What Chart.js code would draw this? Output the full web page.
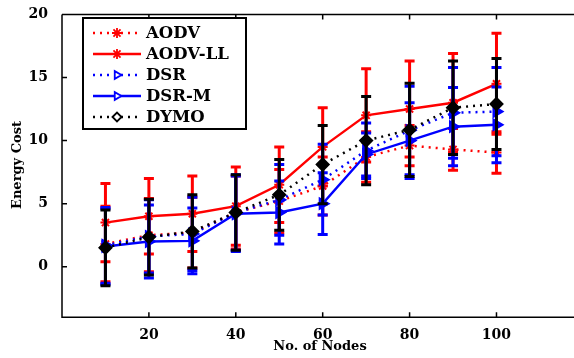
<!DOCTYPE html>
<html>
<head>
<meta charset="utf-8">
<script src="https://cdn.jsdelivr.net/npm/chart.js@4.4.1/dist/chart.umd.min.js"></script>
<style>
  html, body { margin: 0; padding: 0; background: #fff; }
  #wrap { width: 574px; height: 358px; }
</style>
</head>
<body>
<div id="wrap"><canvas id="energyChart" width="574" height="358"></canvas></div>
<script>
// node counts on the x axis
const nodes = [10, 20, 30, 40, 50, 60, 70, 80, 90, 100];

// mean energy cost per protocol
const aodv   = [1.8, 2.5, 2.7, 4.3, 5.2, 6.4, 8.7, 9.6, 9.3, 9.05];
const aodvLL = [3.5, 4.0, 4.2, 4.8, 6.5, 9.5, 12.0, 12.5, 13.0, 14.5];
const dsr    = [1.7, 2.4, 2.6, 4.3, 5.3, 6.9, 9.2, 10.8, 12.2, 12.3];
const dsrM   = [1.6, 2.0, 2.05, 4.2, 4.3, 5.0, 8.9, 10.0, 11.1, 11.25];
const dymo   = [1.5, 2.35, 2.8, 4.3, 5.7, 8.1, 10.0, 10.85, 12.6, 12.9];

// error bar half-widths
const aodvErr   = [3.0, 2.9, 2.8, 2.9, 2.5, 2.3, 2.0, 1.6, 1.65, 1.65];
const aodvLLErr = [3.1, 3.0, 3.0, 3.1, 3.0, 3.1, 3.7, 3.8, 3.9, 4.0];
const dsrErr    = [3.0, 2.9, 2.9, 3.0, 2.8, 2.8, 2.2, 3.5, 3.6, 3.5];
const dsrMErr   = [3.0, 2.9, 2.6, 3.0, 2.5, 2.45, 1.7, 3.0, 3.1, 3.0];
const dymoErr   = [3.0, 3.0, 2.9, 3.0, 2.8, 3.1, 3.5, 3.7, 3.7, 3.6];

const xTicks = [20, 40, 60, 80, 100];
const yTicks = [0, 5, 10, 15, 20];

const serif = '"DejaVu Serif", "Liberation Serif", serif';

function series(label, values, errs, color, dash, style, rotation, order) {
  return {
    label: label,
    data: nodes.map((n, i) => ({ x: n, y: values[i] })),
    errors: errs,
    borderColor: color,
    backgroundColor: color,
    borderWidth: dash ? 2.5 : 2.4,
    borderDash: dash ? [2, 5] : [],
    pointStyle: style,
    rotation: rotation,
    pointRadius: style === 'star' ? 5 : 6,
    pointBorderWidth: 2,
    pointBackgroundColor: color,
    tension: 0,
    order: order,
  };
}

const datasets = [
  series("AODV", aodv, aodvErr, "#ff0000", true, "star", 0, 4),
  series("AODV-LL", aodvLL, aodvLLErr, "#ff0000", false, "star", 0, 3),
  series("DSR", dsr, dsrErr, "#0000ff", true, "triangle", 90, 2),
  series("DSR-M", dsrM, dsrMErr, "#0000ff", false, "triangle", 90, 1),
  series("DYMO", dymo, dymoErr, "#000000", true, "rectRot", 0, 0),
];

// draw each dataset's error bars just before its line, like MATLAB errorbar
const errorBars = {
  id: "errorBars",
  beforeDatasetDraw(chart, args) {
    const ds = chart.data.datasets[args.index];
    const xs = chart.scales.x, ys = chart.scales.y;
    const ctx = chart.ctx;
    ctx.save();
    ctx.strokeStyle = ds.borderColor;
    ctx.lineWidth = 3;
    ctx.setLineDash([]);
    ds.data.forEach((p, i) => {
      const px = xs.getPixelForValue(p.x);
      const top = ys.getPixelForValue(p.y + ds.errors[i]);
      const bot = ys.getPixelForValue(p.y - ds.errors[i]);
      ctx.beginPath();
      ctx.moveTo(px, top); ctx.lineTo(px, bot);
      ctx.moveTo(px - 5, top); ctx.lineTo(px + 5, top);
      ctx.moveTo(px - 5, bot); ctx.lineTo(px + 5, bot);
      ctx.stroke();
    });
    ctx.restore();
  },
};

// axes box, inward ticks, titles and the boxed legend
const frame = {
  id: "frame",
  afterDraw(chart) {
    const { ctx, chartArea: a, scales } = chart;
    ctx.save();
    ctx.strokeStyle = "#000";
    ctx.lineWidth = 1.5;
    ctx.beginPath();
    ctx.moveTo(a.left, a.top); ctx.lineTo(574, a.top);
    ctx.moveTo(a.left, a.top); ctx.lineTo(a.left, a.bottom);
    ctx.lineTo(574, a.bottom);
    xTicks.forEach(v => {
      const px = scales.x.getPixelForValue(v);
      ctx.moveTo(px, a.bottom); ctx.lineTo(px, a.bottom - 5);
      ctx.moveTo(px, a.top); ctx.lineTo(px, a.top + 5);
    });
    yTicks.forEach(v => {
      const py = scales.y.getPixelForValue(v);
      ctx.moveTo(a.left, py); ctx.lineTo(a.left + 5, py);
    });
    ctx.stroke();

    // axis titles
    ctx.fillStyle = "#000";
    ctx.font = "bold 13px " + serif;
    ctx.textAlign = "center";
    ctx.textBaseline = "middle";
    ctx.fillText("No. of Nodes", 320, 347);
    ctx.translate(18, 165);
    ctx.rotate(-Math.PI / 2);
    ctx.fillText("Energy Cost", 0, 0);
    ctx.setTransform(1, 0, 0, 1, 0, 0);

    // legend
    const lx = 83, ly = 18, lw = 163, lh = 111;
    ctx.fillStyle = "#fff";
    ctx.fillRect(lx, ly, lw, lh);
    ctx.strokeStyle = "#000";
    ctx.lineWidth = 2;
    ctx.strokeRect(lx, ly, lw, lh);
    ctx.font = "bold 16.5px " + serif;
    ctx.textAlign = "left";
    chart.data.datasets.forEach((ds, i) => {
      const y = 33 + i * 21;
      ctx.strokeStyle = ds.borderColor;
      ctx.lineWidth = ds.borderWidth;
      ctx.setLineDash(ds.borderDash);
      ctx.beginPath();
      ctx.moveTo(93, y); ctx.lineTo(141, y);
      ctx.stroke();
      ctx.setLineDash([]);
      ctx.lineWidth = 1.8;
      ctx.fillStyle = "#fff";
      Chart.helpers.drawPoint(ctx, {
        pointStyle: ds.pointStyle, rotation: ds.rotation,
        radius: ds.pointStyle === "star" ? 5 : 4.5, borderWidth: 1.8,
      }, 117, y);
      ctx.fillStyle = "#000";
      ctx.fillText(ds.label, 146, y + 1);
    });
    ctx.restore();
  },
};

const ctx = document.getElementById("energyChart").getContext("2d");
new Chart(ctx, {
  type: "line",
  data: { datasets: datasets },
  options: {
    responsive: false,
    animation: false,
    layout: { padding: { top: 12, right: 0, left: 0, bottom: 12 } },
    plugins: { legend: { display: false }, tooltip: { enabled: false } },
    scales: {
      x: {
        type: "linear",
        min: 0,
        max: 116,
        afterBuildTicks: s => { s.ticks = xTicks.map(v => ({ value: v })); },
        grid: { display: false },
        border: { display: false },
        ticks: {
          color: "#000",
          padding: 2,
          font: { family: serif, size: 14, weight: "bold" },
        },
      },
      y: {
        min: -4,
        max: 20,
        afterBuildTicks: s => { s.ticks = yTicks.map(v => ({ value: v })); },
        afterFit: s => { s.width = 62; },
        grid: { display: false },
        border: { display: false },
        ticks: {
          color: "#000",
          padding: 6,
          font: { family: serif, size: 14, weight: "bold" },
        },
      },
    },
  },
  plugins: [errorBars, frame],
});
</script>
</body>
</html>
